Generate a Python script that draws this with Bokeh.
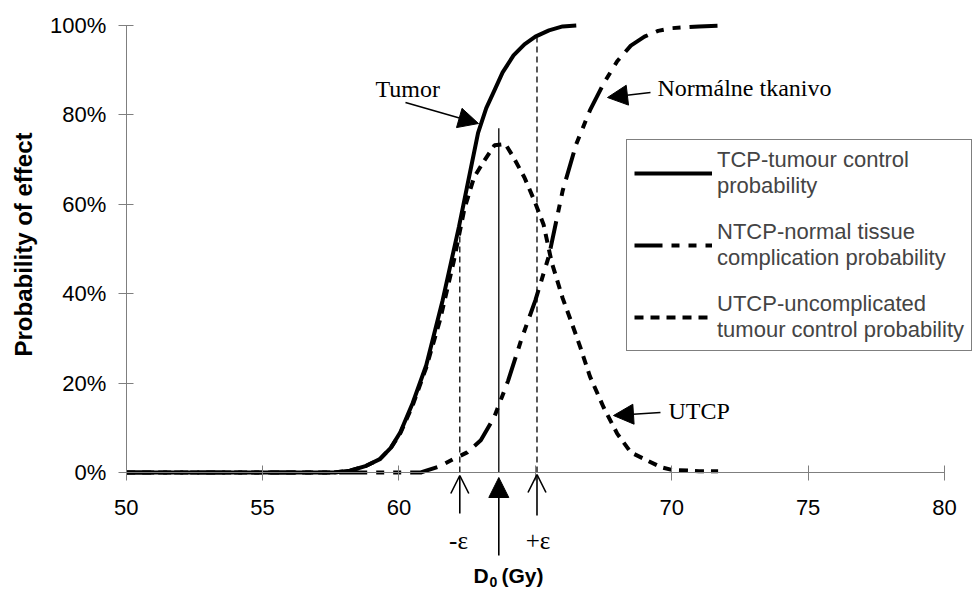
import math
from bokeh.plotting import figure
from bokeh.models import (Range1d, FixedTicker, Legend, LegendItem, Label, Arrow,
                          NormalHead, OpenHead)
from bokeh.embed import file_html
from bokeh.resources import INLINE

# ---------------- data ----------------
dose_tcp = [50, 57.6, 58.2, 58.8, 59.3, 59.7, 60.05, 60.5, 61.0, 61.6, 62.2, 62.6,
            62.9, 63.2, 63.5, 63.8, 64.2, 64.6, 65.0, 65.5, 66.0, 66.5]
tcp = [0, 0, 0.4, 1.5, 3, 5.5, 9, 15.5, 24, 38.5, 55, 67, 76, 81.5, 85.5, 89.5,
       93.3, 95.8, 97.5, 98.9, 99.8, 100]

dose_ntcp = [50, 60.8, 61.0, 61.5, 62.0, 62.5, 63.0, 63.5, 64.0, 64.5, 65.0, 65.5,
             66.0, 66.5, 67.0, 67.5, 68.0, 68.5, 69.0, 69.5, 70.0, 71.0, 72.0]
ntcp = [0, 0, 0.4, 1.4, 3, 4.5, 7.2, 12.5, 20.5, 30, 38.5, 48.5, 63, 73.5, 81,
        87, 92, 95.5, 97.5, 98.8, 99.4, 99.8, 100]

dose_utcp = [50, 57.6, 58.2, 58.8, 59.3, 59.7, 60.05, 60.5, 61.0, 61.5, 62.0, 62.4,
             62.75, 63.1, 63.5, 63.9, 64.2, 64.6, 64.95, 65.3, 65.6, 66.0, 66.3,
             66.65, 67.0, 67.5, 68.0, 68.5, 69.1, 69.6, 70.0, 71.0, 71.7]
utcp = [0, 0, 0.4, 1.5, 3, 5.5, 8.8, 15, 23.5, 34, 47, 59, 66, 69.5, 73.2, 73.5,
        70.5, 66, 61, 55.5, 47, 39, 34, 28, 21.5, 14.6, 8.7, 4.5, 2.7, 1.2, 0.6,
        0.3, 0.3]

# marker lines: -eps, D0, +eps
marker_dose = [62.23, 63.66, 65.06]
marker_top = [55.3, 77.0, 97.3]

x_ticks = [50, 55, 60, 65, 70, 75, 80]
x_tick_labels = ["50", "55", "60", "", "70", "75", "80"]
y_ticks = [0, 20, 40, 60, 80, 100]
y_tick_labels = ["0%", "20%", "40%", "60%", "80%", "100%"]

legend_labels = ["TCP-tumour control\nprobability",
                 "NTCP-normal tissue\ncomplication probability",
                 "UTCP-uncomplicated\ntumour control probability"]

# ---------------- layout ----------------
W, H = 978, 590
X0_PX, PX_PER_GY = 125.7, 27.277     # page x of 50 Gy, px per Gy
Y0_PX, PX_PER_PCT = 472.0, 4.47      # page y of 0 %, px per %

p = figure(width=W, height=H, output_backend="svg", toolbar_location=None,
           x_range=Range1d(50 - X0_PX / PX_PER_GY, 50 + (W - X0_PX) / PX_PER_GY),
           y_range=Range1d(-(H - Y0_PX) / PX_PER_PCT, Y0_PX / PX_PER_PCT),
           min_border=0, min_border_left=0, min_border_right=0,
           min_border_top=0, min_border_bottom=0)
p.outline_line_color = None
p.grid.visible = False
p.background_fill_color = "white"
p.border_fill_color = "white"

AX = "#7f7f7f"
for ax in (p.xaxis[0], p.yaxis[0]):
    ax.axis_line_color = AX
    ax.major_tick_line_color = AX
    ax.minor_tick_line_color = None
    ax.major_tick_in = 7
    ax.major_tick_out = 8
    ax.major_label_text_font = "Liberation Sans"
    ax.major_label_text_font_size = "22px"
    ax.major_label_text_color = "black"

p.xaxis.fixed_location = 0
p.xaxis.ticker = FixedTicker(ticks=x_ticks)
p.xaxis.bounds = (50, 80)
p.xaxis.major_label_overrides = dict(zip(x_ticks, x_tick_labels))
p.xaxis.major_label_standoff = 19
p.yaxis.fixed_location = 50
p.yaxis.ticker = FixedTicker(ticks=y_ticks)
p.yaxis.bounds = (0, 100)
p.yaxis.major_label_overrides = dict(zip(y_ticks, y_tick_labels))
p.yaxis.major_label_standoff = 12

# marker vertical lines
p.segment(x0=marker_dose[0], y0=0, x1=marker_dose[0], y1=marker_top[0],
          line_color="black", line_width=1.3, line_dash="6 4")
p.segment(x0=marker_dose[1], y0=0, x1=marker_dose[1], y1=marker_top[1],
          line_color="black", line_width=1.3)
p.segment(x0=marker_dose[2], y0=0, x1=marker_dose[2], y1=marker_top[2],
          line_color="black", line_width=1.3, line_dash="6 4")

r_utcp = p.line(dose_utcp, utcp, line_color="black", line_width=4, line_dash="9 7")
r_ntcp = p.line(dose_ntcp, ntcp, line_color="black", line_width=4,
                line_dash="28 9 8 9 8 9")
r_tcp = p.line(dose_tcp, tcp, line_color="black", line_width=4)

legend = Legend(items=[LegendItem(label=legend_labels[0], renderers=[r_tcp]),
                       LegendItem(label=legend_labels[1], renderers=[r_ntcp]),
                       LegendItem(label=legend_labels[2], renderers=[r_utcp])],
                location=(626, 239), padding=7, spacing=20, label_standoff=5,
                glyph_width=78, glyph_height=20, margin=0,
                label_text_font="Liberation Sans", label_text_font_size="22px",
                border_line_color="black", border_line_width=1,
                background_fill_color="white", background_fill_alpha=1)
p.add_layout(legend)

SERIF = "Liberation Serif"
SANS = "Liberation Sans"

def gx(px):
    return 50 + (px - X0_PX) / PX_PER_GY

def gy(py):
    return (Y0_PX - py) / PX_PER_PCT

def label(x, y, text, font, size, style="normal", align="left", angle=0.0):
    p.add_layout(Label(x=x, y=y, text=text, text_font=font, text_font_size=size,
                       text_font_style=style, text_align=align, angle=angle,
                       text_baseline="middle", text_color="black"))

label(gx(23), gy(244), "Probability of effect", SANS, "24px", style="bold",
      align="center", angle=math.pi / 2)
label(gx(375), gy(88), "Tumor", SERIF, "24px")
label(gx(657), gy(87), "Normálne tkanivo", SERIF, "24px")
label(gx(668), gy(410), "UTCP", SERIF, "24px")
label(gx(458), gy(540), "-ε", SERIF, "25px", align="center")
label(gx(537.5), gy(540), "+ε", SERIF, "25px", align="center")
label(gx(473), gy(575), "D", SANS, "21px", style="bold")
label(gx(489), gy(581), "0", SANS, "14px", style="bold")
label(gx(501), gy(575), "(Gy)", SANS, "21px", style="bold")

def arrow(x0, y0, x1, y1, head):
    p.add_layout(Arrow(end=head, x_start=x0, y_start=y0, x_end=x1, y_end=y1,
                       line_color="black", line_width=1.6))

def solid_head():
    return NormalHead(size=20, fill_color="black", line_color="black")

arrow(gx(405), gy(102), gx(478), gy(123), solid_head())
arrow(gx(650), gy(92), gx(607), gy(97), solid_head())
arrow(gx(660), gy(412), gx(613), gy(415), solid_head())
arrow(marker_dose[0], gy(513), marker_dose[0], gy(475), OpenHead(size=18, line_width=1.6))
arrow(marker_dose[1], gy(555), marker_dose[1], gy(477), solid_head())
arrow(marker_dose[2], gy(515), marker_dose[2], gy(474), OpenHead(size=18, line_width=1.6))

open("out.html", "w").write(file_html(p, INLINE))
